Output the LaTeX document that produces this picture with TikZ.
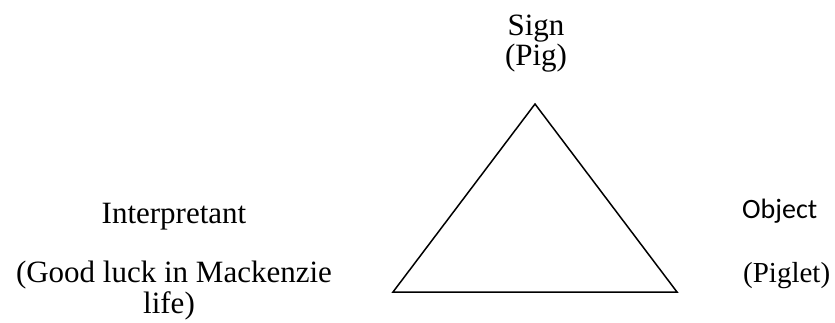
\documentclass[tikz,border=0pt]{standalone}
\usepackage{fontspec}
\setmainfont{Liberation Serif}
\newfontfamily\objfont{Carlito}

\begin{document}
\begin{tikzpicture}[x=1pt,y=-1pt,
  lbl/.style={anchor=base,inner sep=0pt,font=\fontsize{31}{36}\selectfont},
  objlbl/.style={anchor=base west,inner sep=0pt,font=\objfont\fontsize{28}{34}\selectfont}]

\useasboundingbox (0,0) rectangle (835,322);

% Triangle
\coordinate (apex) at (535,104);
\coordinate (baseL) at (393,292);
\coordinate (baseR) at (677,292);
\draw[line width=1.5pt,line join=miter] (apex) -- (baseL) -- (baseR) -- cycle;

% Sign (top)
\node[lbl] (sign) at (536,35) {Sign};
\node[lbl] (pig) at (536,65) {(Pig)};

% Interpretant (left)
\node[lbl] (interp) at (174,223) {Interpretant};
\node[lbl] (luck) at (174,282) {(Good luck in Mackenzie};
\node[lbl] (life) at (169,313) {life)};

% Object (right)
\node[objlbl] (object) at (742,218) {Object};
\node[lbl,anchor=base west,font=\fontsize{29}{34}\selectfont] (piglet) at (743,282) {(Piglet)};

\end{tikzpicture}
\end{document}
